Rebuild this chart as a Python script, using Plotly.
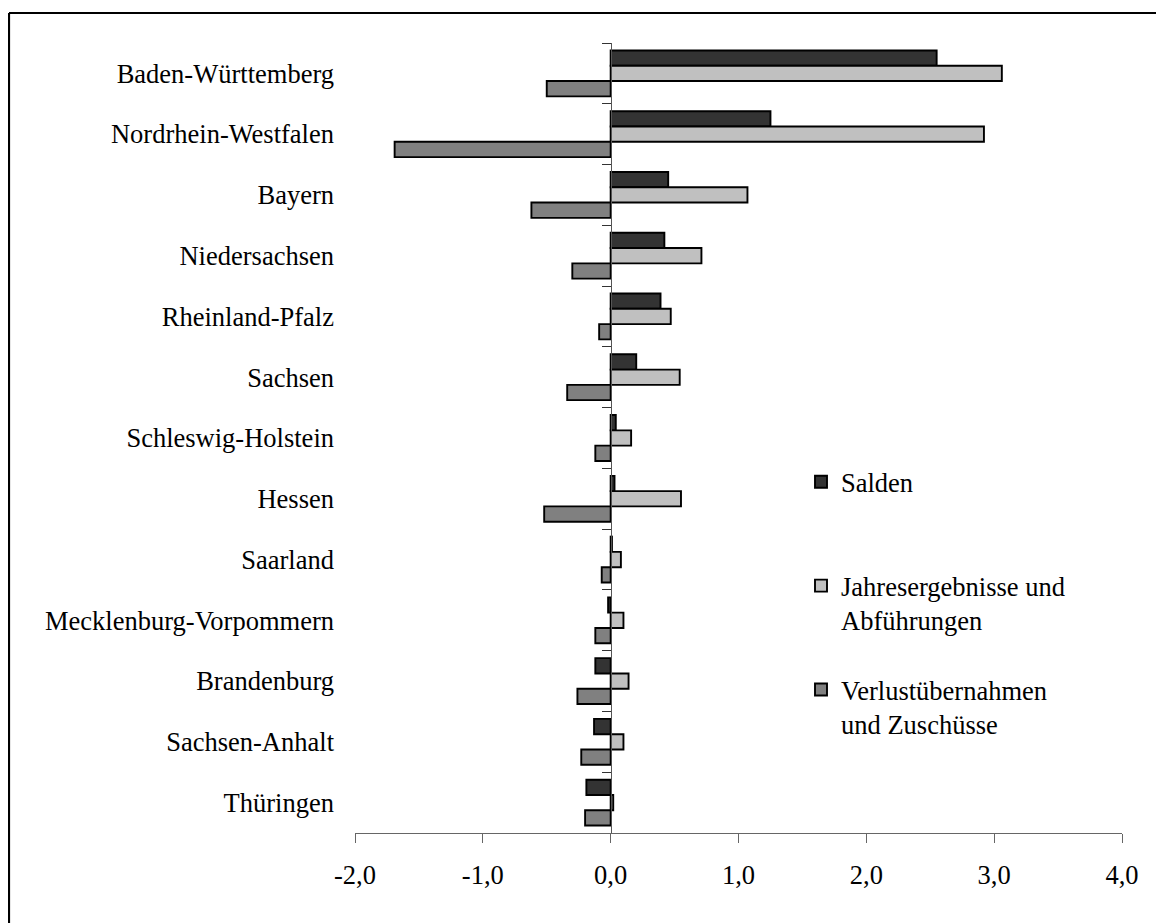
import plotly.graph_objects as go

states = ["Baden-Württemberg", "Nordrhein-Westfalen", "Bayern", "Niedersachsen",
          "Rheinland-Pfalz", "Sachsen", "Schleswig-Holstein", "Hessen", "Saarland",
          "Mecklenburg-Vorpommern", "Brandenburg", "Sachsen-Anhalt", "Thüringen"]
salden = [2.55, 1.25, 0.45, 0.42, 0.39, 0.20, 0.04, 0.03, 0.01, -0.02, -0.12, -0.13, -0.19]
jahres = [3.06, 2.92, 1.07, 0.71, 0.47, 0.54, 0.16, 0.55, 0.08, 0.10, 0.14, 0.10, 0.02]
verlust = [-0.50, -1.69, -0.62, -0.30, -0.09, -0.34, -0.12, -0.52, -0.07, -0.12, -0.26, -0.23, -0.20]

names = ["Salden<br> ", "Jahresergebnisse und<br>Abführungen", "Verlustübernahmen<br>und Zuschüsse"]
colors = ["#333333", "#C0C0C0", "#808080"]
x_ticks = [-2, -1, 0, 1, 2, 3, 4]
x_tick_labels = ["-2,0", "-1,0", "0,0", "1,0", "2,0", "3,0", "4,0"]

FONT = "Liberation Serif, Times New Roman, serif"
FS = 26.5

fig = go.Figure()
for i, (vals, nm, col) in enumerate(zip([salden, jahres, verlust], names, colors)):
    fig.add_trace(go.Bar(
        x=vals, y=states, orientation="h", name=nm,
        marker=dict(color=col, line=dict(color="black", width=1.9)),
        legendgroup=f"g{i}",
    ))

# invisible helper trace for the zero-positioned category axis
fig.add_trace(go.Scatter(x=salden, y=states, yaxis="y2", mode="markers",
                         marker=dict(opacity=0), showlegend=False, hoverinfo="skip"))

# page body has an 8px margin: figure origin sits at (8, 8) of the window
OFF = 8
W, H = 1164 - OFF, 923 - OFF
L, R, T, B = 355 - OFF, 42, 43 - OFF, 90
pw, ph = W - L - R, H - T - B

fig.update_layout(
    width=W, height=H,
    margin=dict(l=L, r=R, t=T, b=B),
    paper_bgcolor="white", plot_bgcolor="white",
    font=dict(family=FONT, size=FS, color="black"),
    barmode="group", bargap=0.245, bargroupgap=0,
    separators=",.",
    showlegend=True,
    legend=dict(x=(801 - OFF - L) / pw, y=(H - B - (458 - OFF)) / ph,
                xanchor="left", yanchor="top",
                bgcolor="rgba(0,0,0,0)", traceorder="grouped", valign="top",
                tracegroupgap=32, font=dict(size=FS, family=FONT)),
    xaxis=dict(range=[-2, 4], tickvals=x_ticks, ticktext=x_tick_labels,
               showline=True, linecolor="#666666", linewidth=1.2,
               ticks="outside", ticklen=9, tickcolor="#666666", tickwidth=1.2,
               showgrid=False, zeroline=False, ticklabelstandoff=9),
    yaxis=dict(categoryorder="array", categoryarray=states, range=[12.5, -0.5],
               showline=False, ticks="", showgrid=False, zeroline=False,
               ticklabelstandoff=20),
    yaxis2=dict(overlaying="y", anchor="free", position=(0 - (-2)) / 6, side="left",
                categoryorder="array", categoryarray=states, range=[12.5, -0.5],
                showline=True, linecolor="#555555", linewidth=1.3,
                ticks="outside", tickson="boundaries", ticklen=9, tickcolor="#333333",
                tickwidth=1.2, showticklabels=False, showgrid=False, zeroline=False),
)

# outer frame (left and top edges)
fx = (1 - L) / pw
fy = 1 + (T - (13 - OFF)) / ph
fig.add_shape(type="line", xref="paper", yref="paper", x0=fx, x1=fx,
              y0=fy, y1=-(B + 5) / ph, line=dict(color="black", width=2.2))
fig.add_shape(type="line", xref="paper", yref="paper", x0=fx, x1=(W - L + 5) / pw,
              y0=fy, y1=fy, line=dict(color="black", width=2.2))

fig.write_html("out.html")
